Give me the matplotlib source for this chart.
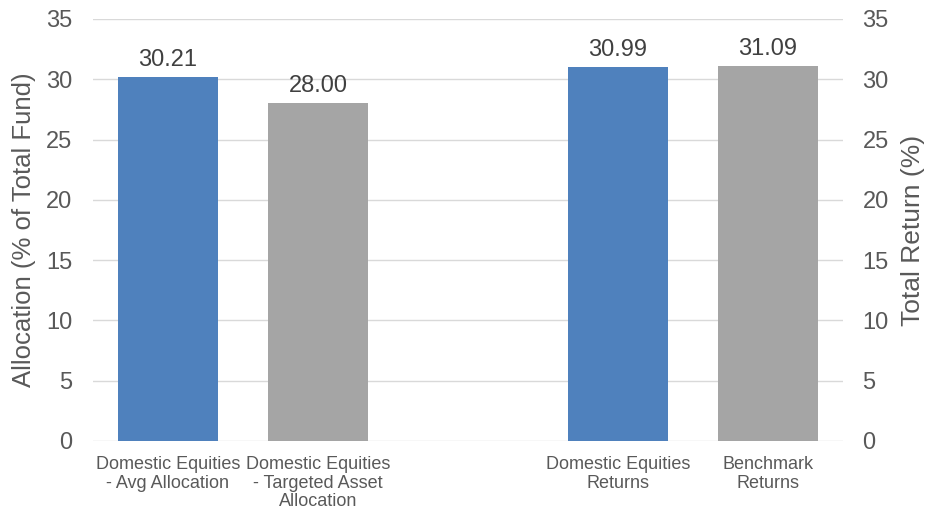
import matplotlib.pyplot as plt
import numpy as np

plt.rcParams['font.family'] = ['Liberation Sans', 'DejaVu Sans']

categories = ['Domestic Equities\n- Avg Allocation',
              'Domestic Equities\n- Targeted Asset\nAllocation',
              '',
              'Domestic Equities\nReturns',
              'Benchmark\nReturns']
allocation = [30.21, 28.00]
returns = [30.99, 31.09]
colors = ['#4F81BD', '#A5A5A5']

text_color = '#595959'
grid_color = '#D9D9D9'

fig = plt.figure(figsize=(9.29, 5.12), dpi=100)
ax = fig.add_axes([0.1001, 0.1387, 0.8073, 0.8242])
ax2 = ax.twinx()

x = np.arange(len(categories))
width = 0.667

# allocation bars on the left axis, returns on the right axis
b1 = ax.bar(x[:2], allocation, width, color=colors, zorder=3)
b2 = ax2.bar(x[3:], returns, width, color=colors, zorder=3)

for a, bars, vals in [(ax, b1, allocation), (ax2, b2, returns)]:
    for bar, v in zip(bars, vals):
        a.text(bar.get_x() + bar.get_width() / 2, v + 0.5, f'{v:.2f}',
               ha='center', va='bottom', fontsize=17, color='#404040')

for a in (ax, ax2):
    a.set_ylim(0, 35)
    a.set_yticks(range(0, 36, 5))
    a.tick_params(axis='y', length=0, labelsize=17, labelcolor=text_color, pad=15)
    for s in a.spines.values():
        s.set_visible(False)
ax2.tick_params(axis='y', pad=14)

ax.set_xlim(-0.5, 4.5)
ax.set_xticks(x)
ax.set_xticklabels(categories, fontsize=13, color=text_color, linespacing=1.1)
ax.tick_params(axis='x', length=0, pad=11)
ax.yaxis.grid(True, color=grid_color, linewidth=1, zorder=0)
ax.set_axisbelow(True)

ax.set_ylabel('Allocation (% of Total Fund)', fontsize=18.5, color=text_color, labelpad=7)
ax2.set_ylabel('Total Return (%)', fontsize=19, color=text_color, labelpad=9)

fig.savefig('out.png', dpi=100)
